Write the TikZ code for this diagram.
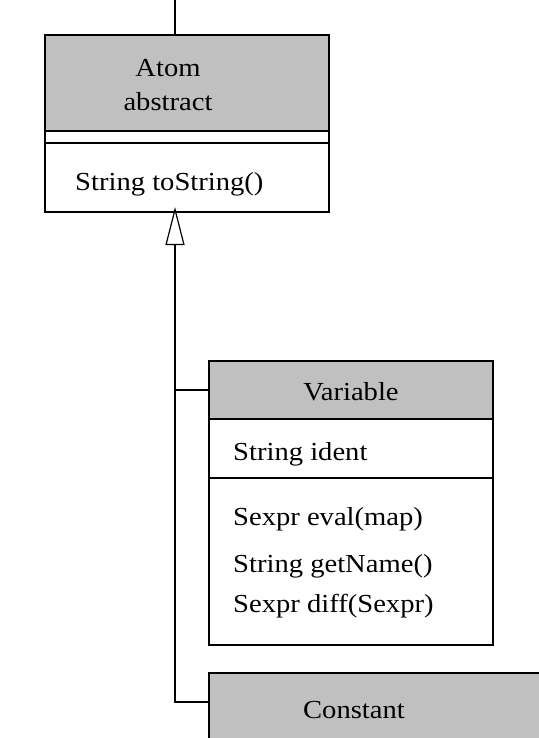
\documentclass[tikz,border=0pt]{standalone}
\usepackage{fontspec}
\setmainfont{Liberation Serif}[FakeStretch=1.1]
\usetikzlibrary{arrows.meta}
\definecolor{hdr}{RGB}{192,192,192}
\tikzset{
  comp/.style={draw=black, line width=1.5pt, minimum width=284pt, anchor=north west, inner sep=0pt, outer sep=0pt},
  hdrbox/.style={comp, fill=hdr},
  txt/.style={inner sep=0pt, font=\fontsize{26}{30}\selectfont},
  conn/.style={line width=1.5pt},
  gen/.style={conn, -{Triangle[open, length=38pt, width=19pt, line width=1.2pt]}, shorten >=-5pt}
}
\begin{document}
\begin{tikzpicture}[x=1pt, y=-1pt]
\useasboundingbox (0,0) rectangle (538,738);
% Atom
\node[hdrbox, minimum height=96pt] (atomh) at (45,35) {};
\node[comp, minimum height=12pt] (atoma) at (45,131) {};
\node[comp, minimum height=69pt] (atomm) at (45,143) {};
\node[txt, anchor=base] (atomn) at (168,77) {Atom};
\node[txt, anchor=base] (atoms) at (168,111) {abstract};
\node[txt, anchor=base west] (atomm1) at (75,190) {String toString()};
% Variable
\node[hdrbox, minimum height=58pt] (varh) at (209,361) {};
\node[comp, minimum height=59pt] (vara) at (209,419) {};
\node[comp, minimum height=167pt] (varm) at (209,478) {};
\node[txt, anchor=base] (varn) at (351,400) {Variable};
\node[txt, anchor=base west] (vara1) at (233,460) {String ident};
\node[txt, anchor=base west] (varm1) at (233,525) {Sexpr eval(map)};
\node[txt, anchor=base west] (varm2) at (233,572) {String getName()};
\node[txt, anchor=base west] (varm3) at (233,612) {Sexpr diff(Sexpr)};
% Constant
\node[hdrbox, minimum width=360pt, minimum height=100pt] (consth) at (209,673) {};
\node[txt, anchor=base] (constn) at (354,718) {Constant};
% connectors
\coordinate (top) at (175,0);
\coordinate (trunk) at (175,702);
\coordinate (cjoin) at ([yshift=-29pt]consth.north west);
\draw[conn] (top) -- (top |- atomh.north);
\draw[gen] (cjoin) -- (cjoin -| trunk) -- (trunk |- atomm.south);
\draw[conn] (varh.west) -- (varh.west -| trunk);
\end{tikzpicture}
\end{document}
